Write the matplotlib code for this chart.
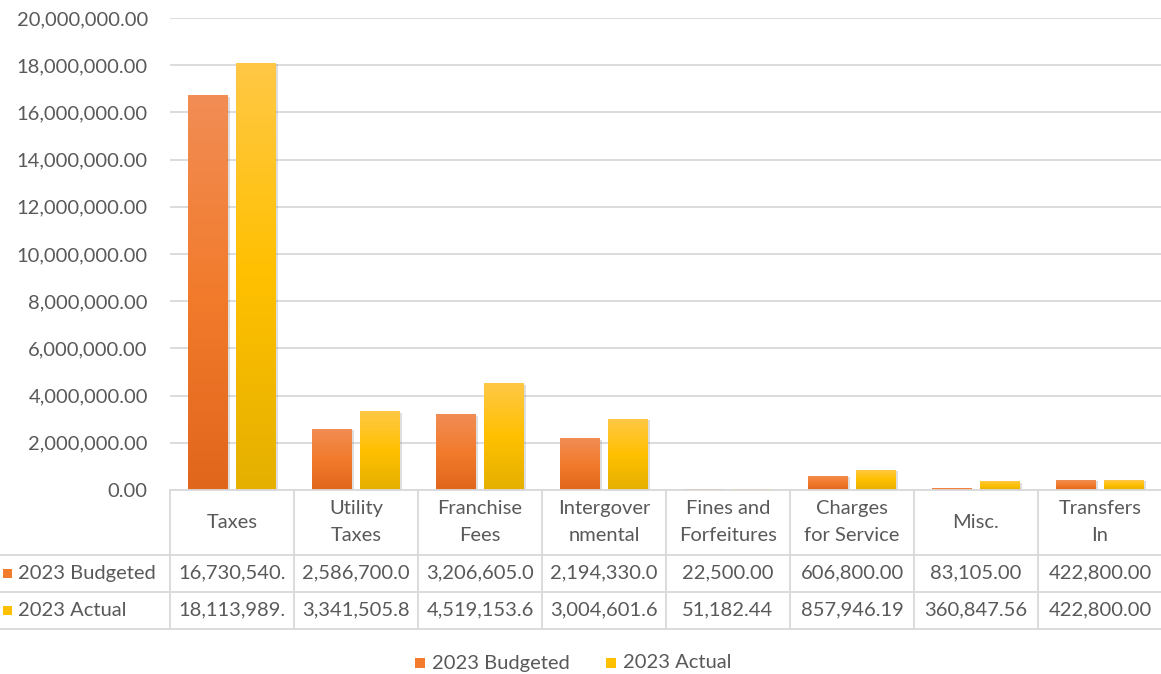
import numpy as np
import matplotlib.pyplot as plt
from matplotlib.colors import LinearSegmentedColormap
from matplotlib.patches import Rectangle
from matplotlib.lines import Line2D
from matplotlib.transforms import blended_transform_factory
import matplotlib.patheffects as pe

plt.rcParams['font.family'] = ['Lato', 'DejaVu Sans']

categories = ['Taxes', 'Utility\nTaxes', 'Franchise\nFees', 'Intergover\nnmental',
              'Fines and\nForfeitures', 'Charges\nfor Service', 'Misc.', 'Transfers\nIn']
budgeted = [16730540.00, 2586700.00, 3206605.00, 2194330.00,
            22500.00, 606800.00, 83105.00, 422800.00]
actual = [18113989.00, 3341505.80, 4519153.60, 3004601.60,
          51182.44, 857946.19, 360847.56, 422800.00]
series_names = ['2023 Budgeted', '2023 Actual']
yticks = np.arange(0, 20000001, 2000000)

text_color = '#595959'
grid_color = '#D9D9D9'
orange = ['#F18D55', '#F27B2C', '#E0661C']
yellow = ['#FFC846', '#FFC000', '#E5B000']
fs = 14.5

W, H = 1161, 674
fig = plt.figure(figsize=(W / 100, H / 100), dpi=100)
ax = fig.add_axes([170 / W, 1 - 490 / H, 992 / W, 472 / H])

x = np.arange(len(categories))
width = 0.32
offset = 0.195


def gradient_bars(xpos, values, colors):
    cmap = LinearSegmentedColormap.from_list('g', colors)
    grad = np.linspace(0, 1, 256).reshape(-1, 1)
    bars = ax.bar(xpos, values, width, color=colors[1], zorder=3,
                  path_effects=[pe.SimplePatchShadow(offset=(1.5, -1), alpha=0.25,
                                                     shadow_rgbFace='#7f7f7f'),
                                pe.Normal()])
    for b in bars:
        x0, h = b.get_x(), b.get_height()
        im = ax.imshow(grad, extent=[x0, x0 + b.get_width(), 0, h], aspect='auto',
                       cmap=cmap, origin='upper', zorder=4, interpolation='bilinear')
        im.set_clip_path(b)
    return bars


gradient_bars(x - offset, budgeted, orange)
gradient_bars(x + offset, actual, yellow)

ax.set_xlim(-0.5, len(categories) - 0.5)
ax.set_ylim(0, 20000000)
ax.set_yticks(yticks)
ax.set_yticklabels([f'{v:,.2f}' for v in yticks], color=text_color, fontsize=fs)
ax.set_xticks([])
ax.tick_params(axis='y', length=0, pad=16)
ax.grid(axis='y', color=grid_color, lw=1.3, zorder=0)
ax.set_axisbelow(True)
for s in ax.spines.values():
    s.set_visible(False)

# data table under the plot: x follows the category axis, y in figure fraction
tr = blended_transform_factory(ax.transData, fig.transFigure)


def fy(py):
    return 1 - py / H


row_lines = [490, 555, 592, 629]
for i, py in enumerate(row_lines):
    x_start = -0.5 if i == 0 else -0.5 - 170 / 124
    fig.add_artist(Line2D([x_start, len(categories) - 0.5], [fy(py), fy(py)],
                          transform=tr, color=grid_color, lw=1.3))
for i in range(len(categories)):
    fig.add_artist(Line2D([i - 0.5, i - 0.5], [fy(490), fy(629)],
                          transform=tr, color=grid_color, lw=1.3))

for i, cat in enumerate(categories):
    fig.text(i, fy(522), cat, transform=tr, ha='center', va='center',
             fontsize=fs, color=text_color, linespacing=1.65)
    fig.text(i, fy(573), f'{budgeted[i]:,.2f}'[:11], transform=tr, ha='center',
             va='center', fontsize=fs, color=text_color)
    fig.text(i, fy(610), f'{actual[i]:,.2f}'[:11], transform=tr, ha='center',
             va='center', fontsize=fs, color=text_color)

for py, name, cols in [(573, series_names[0], orange), (610, series_names[1], yellow)]:
    fig.add_artist(Rectangle((3 / W, fy(py + 5)), 9 / W, 9 / H, transform=fig.transFigure,
                             facecolor=cols[1], edgecolor='none'))
    fig.text(18 / W, fy(py), name, ha='left', va='center', fontsize=fs, color=text_color)

# legend at the bottom
for px, name, cols in [(415, series_names[0], orange), (606, series_names[1], yellow)]:
    fig.add_artist(Rectangle((px / W, fy(668)), 10 / W, 10 / H, transform=fig.transFigure,
                             facecolor=cols[1], edgecolor='none'))
    fig.text((px + 17) / W, fy(663), name, ha='left', va='center', fontsize=fs,
             color=text_color)

fig.savefig('out.png', dpi=100, facecolor='white')
